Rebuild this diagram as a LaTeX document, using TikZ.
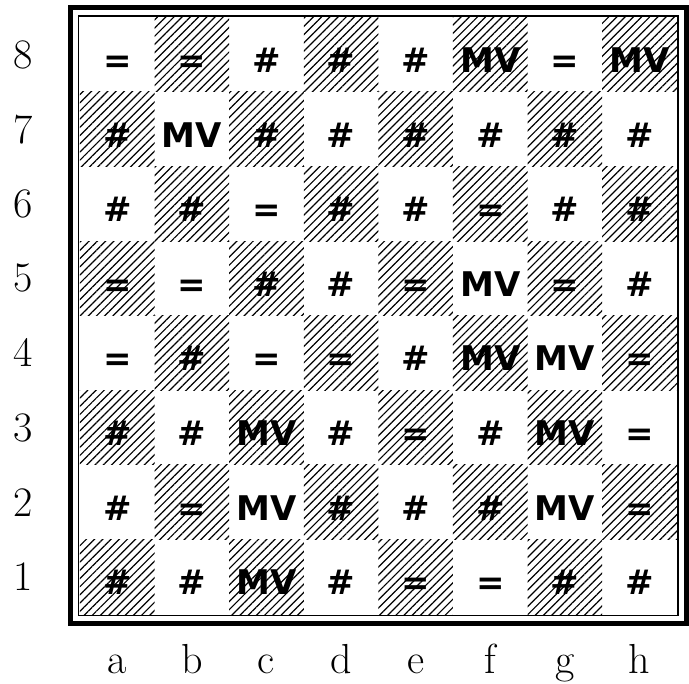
\documentclass[tikz,border=0pt]{standalone}
\usepackage{fontspec}
\newfontfamily\markfont{DejaVu Sans}
\usetikzlibrary{patterns.meta}

\begin{document}
\begin{tikzpicture}[x=74.6pt, y=74.6pt,
    lightsq/.style={minimum size=74.6pt, inner sep=0pt, outer sep=0pt,
        text height=36pt, text depth=0pt, font=\markfont\bfseries\fontsize{34}{34}\selectfont},
    darksq/.style={lightsq, pattern={Lines[angle=45, distance=5.8pt, line width=1.2pt]}},
    coordlabel/.style={font=\fontsize{42}{42}\selectfont, inner sep=0pt}]
    \useasboundingbox (-1.072,-0.925) rectangle (8.164,8.231);
    % squares, rank by rank
    \foreach \r/\row in {8/{=,=,\#,\#,\#,MV,=,MV},
                         7/{\#,MV,\#,\#,\#,\#,\#,\#},
                         6/{\#,\#,=,\#,\#,=,\#,\#},
                         5/{=,=,\#,\#,=,MV,=,\#},
                         4/{=,\#,=,=,\#,MV,MV,=},
                         3/{\#,\#,MV,\#,=,\#,MV,=},
                         2/{\#,=,MV,\#,\#,\#,MV,=},
                         1/{\#,\#,MV,\#,=,=,\#,\#}} {
        \foreach \m [count=\f] in \row {
            \ifodd\numexpr\f+\r\relax \def\shade{lightsq}\else\def\shade{darksq}\fi
            \node[\shade] (sq-\f\r) at (\f-0.5,\r-0.5) {\m};
        }
        \node[coordlabel] (rank-\r) at (-0.764,\r-0.5) {\r};
    }
    \foreach \l [count=\f] in {a,b,c,d,e,f,g,h}
        \node[coordlabel, anchor=base] (file-\l) at (\f-0.5,-0.791) {\l};
    % double frame
    \draw[line width=5pt] ([shift={(-9.3pt,-9.3pt)}]sq-11.south west)
        rectangle ([shift={(9.3pt,9.3pt)}]sq-88.north east);
    \draw[line width=1.6pt] ([shift={(-1.5pt,-1.5pt)}]sq-11.south west)
        rectangle ([shift={(1.5pt,1.5pt)}]sq-88.north east);
\end{tikzpicture}
\end{document}
